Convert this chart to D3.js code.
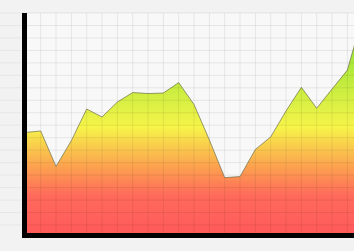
<!DOCTYPE html>
<html>
<head>
<meta charset="utf-8">
<script src="https://cdn.jsdelivr.net/npm/d3@7"></script>
<style>
  html, body { margin: 0; padding: 0; background: #f2f2f2; }
  svg { display: block; }
</style>
</head>
<body>
<div id="chart"></div>
<script>
// data (index along x, value on y)
const pointIndex = d3.range(0, 23);
const values = [52.1, 52.7, 38.5, 48.8, 61.5, 58.3, 64.3, 68.1, 67.7, 67.9, 72.1, 63.3,
                49.1, 34.0, 34.4, 45.3, 50.3, 60.7, 70.2, 61.8, 69.5, 77.1, 98.8];
const gridTicks = d3.range(15, 101, 5);

const width = 354, height = 251;
const plot = { left: 27, top: 13, right: 354, bottom: 233 };

const svg = d3.select("#chart").append("svg")
  .attr("width", width)
  .attr("height", height);

const x = d3.scaleLinear().domain([0, 22]).range([25.35, 362.7]);
const y = d3.scaleLinear().domain([0, 100]).range([262.4, 13]);

// gradient for the area, top green -> yellow -> orange -> red
const grad = svg.append("defs").append("linearGradient")
  .attr("id", "heat")
  .attr("gradientUnits", "userSpaceOnUse")
  .attr("x1", 0).attr("x2", 0)
  .attr("y1", plot.top).attr("y2", plot.bottom);
[[0, "#76da36"], [0.27, "#b6ea3c"], [0.52, "#f7f44a"], [0.7, "#fca14f"],
 [0.83, "#ff6a5b"], [1, "#ff5a5a"]].forEach(([o, c]) => {
  grad.append("stop").attr("offset", o).attr("stop-color", c);
});

// faint page stripes
svg.append("g").selectAll("line")
  .data(gridTicks)
  .join("line")
  .attr("x1", 0).attr("x2", plot.left)
  .attr("y1", d => y(d)).attr("y2", d => y(d))
  .attr("stroke", "#e6e6e6").attr("stroke-width", 1);

// plot background
svg.append("rect")
  .attr("x", plot.left).attr("y", plot.top)
  .attr("width", plot.right - plot.left).attr("height", plot.bottom - plot.top)
  .attr("fill", "#f8f8f8");

// area
const data = pointIndex.map((i) => ({ i, v: values[i] }));
const area = d3.area()
  .x(d => x(d.i))
  .y0(plot.bottom)
  .y1(d => y(d.v));

svg.append("path")
  .datum(data)
  .attr("d", area)
  .attr("fill", "url(#heat)");

// grid on top so it shows through the fill
const grid = svg.append("g").attr("stroke", "#000").attr("stroke-opacity", 0.075);
grid.selectAll("line.h")
  .data(gridTicks)
  .join("line")
  .attr("class", "h")
  .attr("x1", plot.left).attr("x2", plot.right)
  .attr("y1", d => y(d)).attr("y2", d => y(d));
grid.selectAll("line.v")
  .data(pointIndex.slice(1))
  .join("line")
  .attr("class", "v")
  .attr("x1", d => x(d)).attr("x2", d => x(d))
  .attr("y1", plot.top).attr("y2", plot.bottom);

// outline of the area
svg.append("path")
  .datum(data)
  .attr("d", d3.line().x(d => x(d.i)).y(d => y(d.v)))
  .attr("fill", "none")
  .attr("stroke", "#6f6f4a")
  .attr("stroke-opacity", 0.7)
  .attr("stroke-width", 1);

// thick black axes
svg.append("rect")
  .attr("x", 22).attr("y", plot.top)
  .attr("width", 5).attr("height", plot.bottom + 5 - plot.top)
  .attr("fill", "#000");
svg.append("rect")
  .attr("x", 22).attr("y", plot.bottom)
  .attr("width", plot.right - 22).attr("height", 5)
  .attr("fill", "#000");
</script>
</body>
</html>
